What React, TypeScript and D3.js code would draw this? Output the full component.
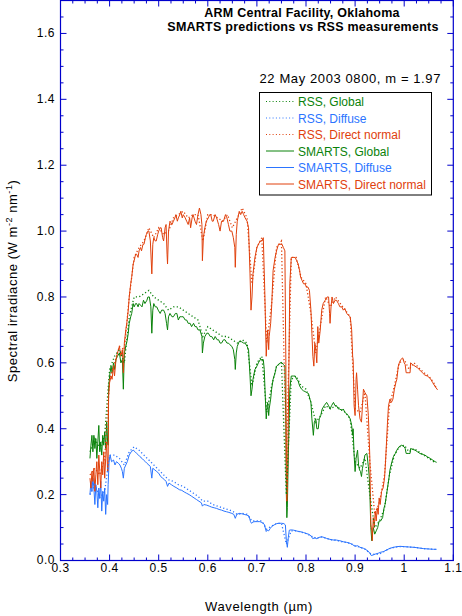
import { useMemo } from "react";
import * as d3 from "d3";

type Pt = [number, number];

// SMARTS model spectra (wavelength in µm, W m-2 nm-1)
const smartsDirect: Pt[] = [
  [0.360,0.25],[0.362,0.22],[0.364,0.27],[0.366,0.24],[0.368,0.28],[0.370,0.21],[0.372,0.26],[0.374,0.30],[0.376,0.23],[0.378,0.32],
  [0.380,0.27],[0.382,0.22],[0.384,0.30],[0.386,0.26],[0.388,0.33],[0.390,0.25],[0.392,0.31],[0.394,0.36],[0.396,0.27],[0.397,0.29],
  [0.398,0.50],[0.400,0.54],[0.403,0.56],[0.405,0.55],[0.408,0.59],[0.410,0.56],[0.413,0.61],[0.416,0.63],[0.420,0.65],[0.423,0.62],
  [0.426,0.64],[0.428,0.57],[0.430,0.66],[0.433,0.70],[0.435,0.72],[0.438,0.76],[0.440,0.80],[0.443,0.84],[0.445,0.86],[0.448,0.90],
  [0.450,0.91],[0.453,0.93],[0.455,0.93],[0.458,0.92],[0.460,0.94],[0.463,0.95],[0.465,0.94],[0.468,0.96],[0.470,0.96],[0.473,0.98],
  [0.475,0.99],[0.478,1.00],[0.480,1.00],[0.483,0.97],[0.486,0.87],[0.488,0.96],[0.490,0.98],[0.493,0.97],[0.495,0.97],[0.498,0.99],
  [0.500,1.00],[0.503,1.01],[0.505,1.01],[0.508,0.98],[0.510,0.97],[0.513,1.01],[0.515,1.02],[0.517,0.93],[0.518,0.90],[0.520,1.00],
  [0.523,1.03],[0.527,1.02],[0.530,1.03],[0.533,1.04],[0.535,1.05],[0.538,1.03],[0.540,1.04],[0.543,1.05],[0.545,1.06],[0.548,1.04],
  [0.550,1.05],[0.554,1.04],[0.557,1.03],[0.560,1.02],[0.563,1.04],[0.565,1.01],[0.568,1.04],[0.570,1.05],[0.574,1.03],[0.577,1.02],
  [0.580,1.05],[0.583,1.07],[0.586,1.05],[0.588,1.02],[0.589,0.91],[0.591,0.98],[0.594,1.01],[0.597,1.03],[0.601,1.04],[0.604,1.05],
  [0.606,1.05],[0.609,1.03],[0.611,1.03],[0.615,1.05],[0.618,1.04],[0.622,1.02],[0.625,1.00],[0.628,1.03],[0.632,1.03],[0.636,1.05],
  [0.639,1.04],[0.642,1.02],[0.645,1.00],[0.649,1.00],[0.652,0.98],[0.655,0.95],[0.656,0.89],[0.658,0.99],[0.660,1.03],[0.664,1.06],
  [0.667,1.05],[0.670,1.06],[0.673,1.05],[0.676,1.04],[0.680,1.03],[0.683,1.01],[0.686,0.87],[0.688,0.76],[0.690,0.80],[0.692,0.87],
  [0.696,0.92],[0.700,0.95],[0.703,0.96],[0.707,0.97],[0.710,0.97],[0.713,0.98],[0.716,0.82],[0.719,0.62],[0.721,0.68],[0.722,0.70],
  [0.724,0.64],[0.725,0.68],[0.728,0.72],[0.730,0.77],[0.733,0.88],[0.737,0.92],[0.740,0.94],[0.744,0.96],[0.747,0.96],[0.751,0.96],
  [0.754,0.95],[0.757,0.94],[0.759,0.60],[0.760,0.25],[0.761,0.18],[0.762,0.22],[0.764,0.42],[0.766,0.70],[0.767,0.84],[0.770,0.92],
  [0.774,0.92],[0.778,0.92],[0.781,0.91],[0.784,0.90],[0.787,0.88],[0.789,0.86],[0.792,0.85],[0.795,0.84],[0.798,0.84],[0.801,0.83],
  [0.804,0.83],[0.807,0.82],[0.810,0.76],[0.812,0.69],[0.814,0.62],[0.816,0.59],[0.818,0.66],[0.820,0.64],[0.822,0.60],[0.824,0.71],
  [0.826,0.66],[0.829,0.70],[0.832,0.76],[0.835,0.78],[0.839,0.79],[0.843,0.80],[0.846,0.80],[0.848,0.75],[0.849,0.72],[0.851,0.77],
  [0.853,0.80],[0.856,0.78],[0.859,0.79],[0.862,0.79],[0.866,0.78],[0.869,0.77],[0.873,0.77],[0.876,0.76],[0.879,0.765],[0.883,0.75],
  [0.886,0.745],[0.890,0.74],[0.893,0.70],[0.895,0.62],[0.896,0.61],[0.898,0.47],[0.900,0.44],[0.902,0.55],[0.903,0.57],[0.905,0.52],
  [0.907,0.47],[0.910,0.43],[0.913,0.42],[0.915,0.47],[0.917,0.52],[0.920,0.51],[0.924,0.50],[0.927,0.44],[0.929,0.36],[0.930,0.31],
  [0.932,0.11],[0.934,0.09],[0.935,0.06],[0.937,0.13],[0.939,0.10],[0.941,0.15],[0.943,0.12],[0.945,0.16],[0.947,0.14],[0.949,0.19],
  [0.951,0.17],[0.954,0.21],[0.957,0.22],[0.960,0.25],[0.962,0.30],[0.964,0.36],[0.966,0.42],[0.968,0.47],[0.971,0.49],[0.974,0.48],
  [0.977,0.49],[0.980,0.52],[0.983,0.54],[0.985,0.55],[0.988,0.59],[0.990,0.60],[0.993,0.61],[0.997,0.615],[1.000,0.60],[1.002,0.595],
  [1.004,0.57],[1.008,0.57],[1.012,0.57],[1.013,0.60],[1.017,0.595],[1.022,0.59],[1.027,0.585],[1.032,0.578],[1.037,0.57],[1.042,0.563],
  [1.047,0.56],[1.053,0.553],[1.058,0.54],[1.063,0.528],[1.068,0.518],
];

const smartsGlobal: Pt[] = [
  [0.360,0.31],[0.362,0.35],[0.364,0.38],[0.366,0.33],[0.368,0.38],[0.370,0.34],[0.372,0.37],[0.374,0.31],[0.376,0.36],[0.378,0.41],
  [0.380,0.33],[0.382,0.36],[0.384,0.32],[0.386,0.38],[0.388,0.35],[0.390,0.39],[0.392,0.34],[0.394,0.42],[0.396,0.36],[0.397,0.35],
  [0.398,0.52],[0.400,0.56],[0.403,0.59],[0.405,0.57],[0.408,0.60],[0.410,0.58],[0.413,0.61],[0.416,0.62],[0.420,0.63],[0.423,0.60],
  [0.426,0.61],[0.428,0.52],[0.430,0.63],[0.433,0.65],[0.436,0.67],[0.438,0.69],[0.440,0.72],[0.443,0.74],[0.445,0.75],[0.448,0.78],
  [0.450,0.77],[0.453,0.78],[0.455,0.78],[0.458,0.77],[0.460,0.78],[0.463,0.775],[0.466,0.77],[0.469,0.79],[0.472,0.78],[0.476,0.79],
  [0.478,0.80],[0.481,0.80],[0.484,0.77],[0.486,0.69],[0.488,0.76],[0.490,0.78],[0.493,0.77],[0.496,0.77],[0.499,0.76],[0.503,0.75],
  [0.506,0.76],[0.510,0.76],[0.513,0.75],[0.516,0.72],[0.518,0.70],[0.520,0.74],[0.523,0.75],[0.527,0.74],[0.530,0.74],[0.534,0.75],
  [0.537,0.75],[0.540,0.73],[0.543,0.74],[0.547,0.74],[0.550,0.74],[0.554,0.73],[0.557,0.73],[0.560,0.72],[0.564,0.72],[0.567,0.71],
  [0.571,0.72],[0.574,0.71],[0.577,0.71],[0.580,0.70],[0.584,0.70],[0.588,0.68],[0.589,0.63],[0.591,0.66],[0.594,0.68],[0.598,0.69],
  [0.601,0.69],[0.605,0.68],[0.608,0.68],[0.612,0.67],[0.615,0.68],[0.619,0.67],[0.622,0.67],[0.625,0.66],[0.628,0.66],[0.632,0.67],
  [0.635,0.67],[0.639,0.66],[0.642,0.66],[0.645,0.655],[0.649,0.65],[0.652,0.64],[0.655,0.61],[0.656,0.58],[0.658,0.63],[0.660,0.65],
  [0.664,0.665],[0.669,0.664],[0.673,0.66],[0.676,0.66],[0.680,0.65],[0.683,0.64],[0.686,0.56],[0.688,0.50],[0.690,0.52],[0.692,0.55],
  [0.696,0.58],[0.700,0.59],[0.703,0.60],[0.707,0.61],[0.710,0.61],[0.713,0.61],[0.715,0.58],[0.717,0.50],[0.719,0.43],[0.721,0.47],
  [0.722,0.48],[0.724,0.44],[0.725,0.46],[0.728,0.49],[0.730,0.52],[0.733,0.55],[0.737,0.57],[0.740,0.59],[0.744,0.595],[0.747,0.60],
  [0.751,0.60],[0.754,0.595],[0.757,0.59],[0.759,0.42],[0.760,0.20],[0.761,0.13],[0.762,0.16],[0.764,0.32],[0.766,0.45],[0.767,0.52],
  [0.770,0.56],[0.774,0.56],[0.778,0.56],[0.781,0.55],[0.784,0.545],[0.787,0.53],[0.791,0.52],[0.795,0.515],[0.798,0.513],[0.801,0.51],
  [0.805,0.507],[0.808,0.49],[0.810,0.48],[0.812,0.43],[0.815,0.38],[0.817,0.42],[0.820,0.43],[0.822,0.40],[0.825,0.40],[0.827,0.43],
  [0.830,0.44],[0.833,0.46],[0.837,0.47],[0.842,0.48],[0.846,0.47],[0.849,0.46],[0.852,0.47],[0.856,0.48],[0.859,0.47],[0.862,0.47],
  [0.866,0.46],[0.869,0.46],[0.873,0.455],[0.876,0.46],[0.879,0.45],[0.883,0.445],[0.886,0.44],[0.890,0.43],[0.893,0.41],[0.895,0.38],
  [0.896,0.40],[0.898,0.32],[0.900,0.27],[0.902,0.31],[0.905,0.335],[0.907,0.29],[0.909,0.275],[0.911,0.27],[0.913,0.255],[0.915,0.28],
  [0.917,0.295],[0.920,0.32],[0.924,0.325],[0.927,0.285],[0.929,0.25],[0.930,0.21],[0.932,0.10],[0.934,0.06],[0.935,0.08],[0.937,0.10],
  [0.940,0.08],[0.943,0.09],[0.946,0.10],[0.949,0.12],[0.952,0.12],[0.956,0.13],[0.959,0.16],[0.961,0.17],[0.964,0.20],[0.966,0.22],
  [0.969,0.25],[0.971,0.275],[0.975,0.30],[0.978,0.315],[0.982,0.325],[0.985,0.335],[0.990,0.346],[0.995,0.35],[1.000,0.345],[1.002,0.34],
  [1.004,0.325],[1.008,0.325],[1.012,0.325],[1.013,0.34],[1.018,0.337],[1.022,0.335],[1.027,0.33],[1.032,0.325],[1.037,0.322],[1.042,0.32],
  [1.047,0.315],[1.053,0.31],[1.058,0.305],[1.063,0.30],[1.066,0.298],
];

const smartsDiffuse: Pt[] = [
  [0.360,0.20],[0.362,0.24],[0.364,0.21],[0.366,0.25],[0.368,0.22],[0.370,0.17],[0.372,0.23],[0.374,0.21],[0.376,0.16],[0.378,0.22],
  [0.380,0.19],[0.382,0.24],[0.384,0.15],[0.386,0.21],[0.388,0.18],[0.390,0.22],[0.392,0.14],[0.394,0.20],[0.396,0.17],[0.397,0.23],
  [0.399,0.30],[0.401,0.32],[0.404,0.30],[0.408,0.305],[0.411,0.29],[0.414,0.30],[0.418,0.295],[0.421,0.29],[0.424,0.28],[0.426,0.27],
  [0.428,0.25],[0.430,0.28],[0.433,0.29],[0.436,0.30],[0.440,0.32],[0.444,0.33],[0.448,0.335],[0.452,0.33],[0.455,0.325],[0.459,0.32],
  [0.462,0.315],[0.466,0.31],[0.469,0.305],[0.473,0.30],[0.476,0.295],[0.480,0.29],[0.483,0.285],[0.486,0.25],[0.488,0.28],[0.492,0.275],
  [0.496,0.27],[0.500,0.265],[0.504,0.255],[0.508,0.25],[0.512,0.245],[0.515,0.24],[0.518,0.225],[0.521,0.235],[0.526,0.23],[0.531,0.225],
  [0.537,0.22],[0.542,0.215],[0.547,0.213],[0.552,0.208],[0.557,0.204],[0.562,0.20],[0.567,0.195],[0.572,0.19],[0.577,0.185],[0.582,0.18],
  [0.587,0.175],[0.589,0.165],[0.592,0.17],[0.598,0.168],[0.603,0.165],[0.608,0.162],[0.613,0.16],[0.618,0.158],[0.623,0.155],[0.628,0.153],
  [0.633,0.15],[0.638,0.148],[0.643,0.146],[0.649,0.143],[0.653,0.14],[0.656,0.128],[0.659,0.14],[0.664,0.143],[0.669,0.142],[0.674,0.14],
  [0.679,0.138],[0.684,0.135],[0.687,0.118],[0.689,0.113],[0.692,0.117],[0.696,0.118],[0.701,0.118],[0.706,0.118],[0.711,0.115],[0.715,0.11],
  [0.719,0.088],[0.721,0.092],[0.724,0.09],[0.727,0.097],[0.730,0.103],[0.735,0.108],[0.740,0.112],[0.745,0.113],[0.750,0.113],[0.755,0.112],
  [0.758,0.108],[0.760,0.06],[0.762,0.04],[0.764,0.07],[0.766,0.092],[0.770,0.093],[0.775,0.092],[0.780,0.09],[0.785,0.088],[0.790,0.087],
  [0.795,0.085],[0.800,0.082],[0.805,0.08],[0.810,0.075],[0.814,0.066],[0.818,0.07],[0.822,0.066],[0.826,0.07],[0.832,0.072],[0.837,0.07],
  [0.842,0.067],[0.847,0.065],[0.852,0.063],[0.857,0.062],[0.862,0.062],[0.869,0.06],[0.876,0.057],[0.883,0.055],[0.890,0.052],[0.895,0.048],
  [0.900,0.043],[0.905,0.045],[0.910,0.04],[0.917,0.037],[0.922,0.033],[0.927,0.028],[0.930,0.022],[0.933,0.015],[0.937,0.017],[0.942,0.02],
  [0.947,0.022],[0.952,0.025],[0.958,0.027],[0.964,0.032],[0.971,0.037],[0.978,0.04],[0.985,0.042],[0.992,0.043],[1.000,0.042],[1.010,0.041],
  [1.020,0.04],[1.030,0.038],[1.040,0.036],[1.050,0.035],[1.060,0.034],[1.066,0.034],
];

// RSS measurements
const rssWavelength = [
  0.36,0.37,0.38,0.39,0.40,0.41,0.42,0.43,0.44,0.45,0.46,0.47,0.48,0.49,0.50,0.51,0.52,0.53,0.54,0.55,
  0.56,0.57,0.58,0.59,0.60,0.61,0.62,0.63,0.64,0.65,0.66,0.67,0.68,0.69,0.70,0.71,0.72,0.73,0.74,0.75,
  0.76,0.77,0.78,0.79,0.80,0.81,0.82,0.83,0.84,0.85,0.86,0.87,0.88,0.89,0.90,0.91,0.92,0.93,0.94,0.95,
  0.96,0.97,0.98,0.99,1.00,1.01,1.02,1.03,1.04,1.05,1.06,1.065,
];
const rssGlobal = [
  0.33,0.37,0.34,0.38,0.58,0.62,0.64,0.60,0.74,0.80,0.80,0.81,0.82,0.80,0.79,0.78,0.76,0.77,0.77,0.76,
  0.75,0.74,0.73,0.68,0.71,0.70,0.69,0.68,0.68,0.67,0.66,0.67,0.66,0.53,0.60,0.62,0.45,0.53,0.59,0.60,
  0.20,0.55,0.56,0.53,0.52,0.48,0.42,0.44,0.47,0.46,0.47,0.46,0.45,0.43,0.30,0.28,0.31,0.20,0.10,0.12,
  0.16,0.26,0.32,0.345,0.35,0.33,0.34,0.33,0.32,0.31,0.30,0.298,
];
const rssDiffuse = [
  0.20,0.23,0.19,0.21,0.32,0.32,0.31,0.29,0.33,0.345,0.335,0.32,0.305,0.29,0.275,0.26,0.245,0.24,0.23,0.225,
  0.215,0.205,0.195,0.18,0.18,0.17,0.165,0.16,0.155,0.15,0.14,0.143,0.14,0.12,0.12,0.12,0.095,0.105,0.112,0.113,
  0.05,0.09,0.09,0.086,0.082,0.075,0.066,0.072,0.068,0.063,0.062,0.058,0.055,0.052,0.045,0.04,0.035,0.022,0.018,0.02,
  0.028,0.036,0.04,0.042,0.042,0.041,0.04,0.038,0.036,0.035,0.034,0.034,
];
const rssDirect = [
  0.26,0.28,0.26,0.31,0.55,0.60,0.65,0.64,0.80,0.92,0.95,0.97,1.01,0.98,1.01,0.99,1.00,1.04,1.05,1.06,
  1.04,1.05,1.05,0.97,1.05,1.05,1.04,1.03,1.05,1.01,1.04,1.07,1.04,0.84,0.95,0.98,0.66,0.78,0.95,0.97,
  0.30,0.92,0.92,0.86,0.84,0.75,0.63,0.72,0.80,0.77,0.80,0.78,0.76,0.74,0.46,0.45,0.51,0.30,0.14,0.18,
  0.26,0.47,0.53,0.60,0.61,0.58,0.60,0.585,0.57,0.56,0.54,0.525,
];

const xTicks = [0.3, 0.4, 0.5, 0.6, 0.7, 0.8, 0.9, 1.0, 1.1];
const xTickLabels = ["0.3", "0.4", "0.5", "0.6", "0.7", "0.8", "0.9", "1", "1.1"];
const yTicks = [0, 0.2, 0.4, 0.6, 0.8, 1.0, 1.2, 1.4, 1.6];

const GREEN = "#0a820a";
const BLUE = "#2b74ff";
const ORANGE = "#e0400c";
const AXIS = "#0000cc";
const FONT = "'Liberation Sans', Arial, sans-serif";

const legendItems = [
  { label: "RSS, Global", color: GREEN, dotted: true },
  { label: "RSS, Diffuse", color: BLUE, dotted: true },
  { label: "RSS, Direct normal", color: ORANGE, dotted: true },
  { label: "SMARTS, Global", color: GREEN, dotted: false },
  { label: "SMARTS, Diffuse", color: BLUE, dotted: false },
  { label: "SMARTS, Direct normal", color: ORANGE, dotted: false },
];

export default function App() {
  const width = 462;
  const height = 616;
  const left = 60.5, right = 453.3, top = 0.5, bottom = 560.5;

  const x = d3.scaleLinear().domain([0.3, 1.1]).range([left, right]);
  const y = d3.scaleLinear().domain([0, 1.7]).range([bottom, top]);

  const line = d3
    .line<Pt>()
    .x((d) => x(d[0]))
    .y((d) => y(d[1]));

  const rssPaths = useMemo(() => {
    const mk = (vals: number[]) => line(rssWavelength.map((w, i) => [w, vals[i]] as Pt)) ?? "";
    return [
      { d: mk(rssGlobal), c: GREEN },
      { d: mk(rssDiffuse), c: BLUE },
      { d: mk(rssDirect), c: ORANGE },
    ];
  }, []);

  const smartsPaths = [
    { d: line(smartsGlobal) ?? "", c: GREEN },
    { d: line(smartsDiffuse) ?? "", c: BLUE },
    { d: line(smartsDirect) ?? "", c: ORANGE },
  ];

  const xMinor = d3.range(0.3, 1.1001, 0.025);
  const yMinor = d3.range(0, 1.7001, 0.05);

  return (
    <svg
      width={width}
      height={height}
      style={{ position: "absolute", left: 0, top: 0, background: "#fff" }}
      fontFamily={FONT}
    >
      <defs>
        <clipPath id="plot">
          <rect x={left} y={top} width={right - left} height={bottom - top} />
        </clipPath>
      </defs>

      <g clipPath="url(#plot)">
        {smartsPaths.map((p, i) => (
          <path key={"s" + i} d={p.d} fill="none" stroke={p.c} strokeWidth={1} />
        ))}
        {rssPaths.map((p, i) => (
          <path key={"r" + i} d={p.d} fill="none" stroke={p.c} strokeWidth={1.3} strokeDasharray="1.2,2.3" />
        ))}
      </g>

      {/* frame and ticks */}
      <rect x={left} y={top} width={right - left} height={bottom - top} fill="none" stroke={AXIS} strokeWidth={1.2} />
      {xMinor.map((v, i) => {
        const major = i % 4 === 0;
        const len = major ? 6 : 3;
        return (
          <g key={"xm" + i} stroke={AXIS} strokeWidth={1}>
            <line x1={x(v)} x2={x(v)} y1={bottom} y2={bottom - len} />
            <line x1={x(v)} x2={x(v)} y1={top} y2={top + len} />
          </g>
        );
      })}
      {yMinor.map((v, i) => {
        const major = i % 4 === 0;
        const len = major ? 6 : 3;
        return (
          <g key={"ym" + i} stroke={AXIS} strokeWidth={1}>
            <line x1={left} x2={left + len} y1={y(v)} y2={y(v)} />
            <line x1={right} x2={right - len} y1={y(v)} y2={y(v)} />
          </g>
        );
      })}

      {xTicks.map((v, i) => (
        <text key={"xt" + i} x={x(v)} y={572} textAnchor="middle" fontSize={12} letterSpacing={0.5} fill="#000">
          {xTickLabels[i]}
        </text>
      ))}
      {yTicks.map((v, i) => (
        <text key={"yt" + i} x={55} y={y(v) + (i === 0 ? 3 : 4)} textAnchor="end" fontSize={12} letterSpacing={0.5} fill="#000">
          {v.toFixed(1)}
        </text>
      ))}

      <text x={259} y={611} textAnchor="middle" fontSize={13} letterSpacing={0.6} fill="#000">
        Wavelength (µm)
      </text>
      <text transform="translate(17,281) rotate(-90)" textAnchor="middle" fontSize={13} letterSpacing={0.55} fill="#000">
        Spectral irradiacne (W m
        <tspan dy={-5} fontSize={9}>-2</tspan>
        <tspan dy={5}> nm</tspan>
        <tspan dy={-5} fontSize={9}>-1</tspan>
        <tspan dy={5}>)</tspan>
      </text>

      {/* titles */}
      <text x={302} y={17} textAnchor="middle" fontSize={12.5} fontWeight="bold" letterSpacing={0.25} fill="#000">
        ARM Central Facility, Oklahoma
      </text>
      <text x={303} y={31} textAnchor="middle" fontSize={12.5} fontWeight="bold" letterSpacing={0.25} fill="#000">
        SMARTS predictions vs RSS measurements
      </text>
      <text x={441} y={83} textAnchor="end" fontSize={13} letterSpacing={0.6} fill="#000">
        22 May 2003 0800, m = 1.97
      </text>

      {/* legend */}
      <rect x={259.5} y={92.5} width={172} height={102.5} fill="#fff" stroke="#000" strokeWidth={1} />
      {legendItems.map((it, i) => {
        const yy = 106 + i * 16.5;
        return (
          <g key={"lg" + i}>
            <line
              x1={266}
              x2={294}
              y1={yy - 4.5}
              y2={yy - 4.5}
              stroke={it.color}
              strokeWidth={1}
              strokeDasharray={it.dotted ? "1,2.3" : undefined}
            />
            <text x={298} y={yy} fontSize={12} fill={it.color}>
              {it.label}
            </text>
          </g>
        );
      })}
    </svg>
  );
}
